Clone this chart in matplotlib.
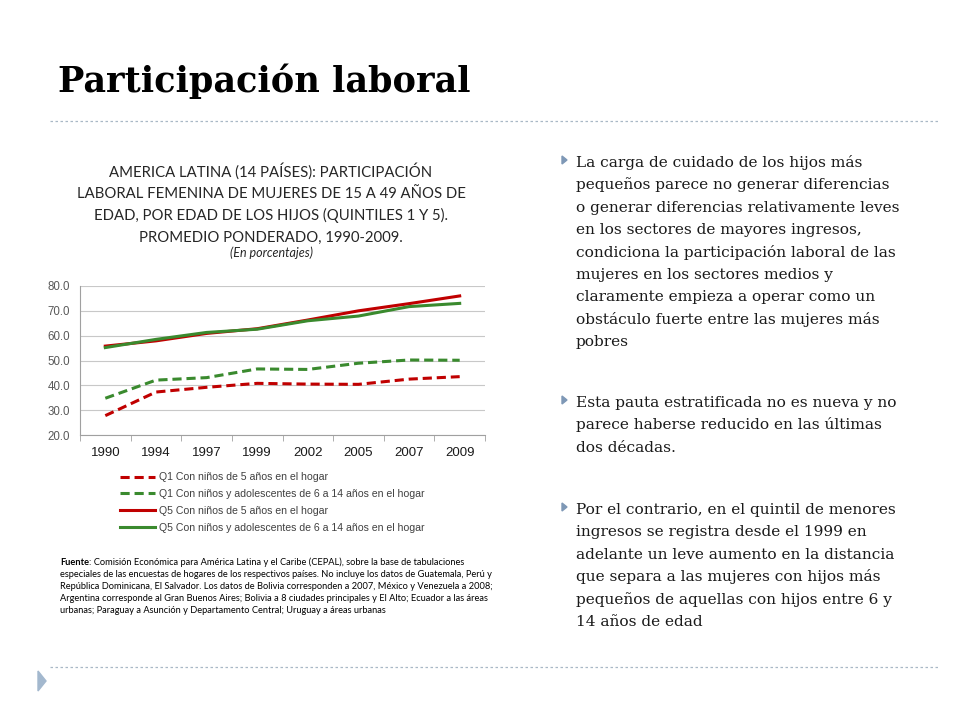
import numpy as np
import matplotlib
matplotlib.use("Agg")
import matplotlib.pyplot as plt
from matplotlib.lines import Line2D
from matplotlib.patches import Polygon

# data
years = ["1990", "1994", "1997", "1999", "2002", "2005", "2007", "2009"]
q1_small = [27.8, 37.3, 39.2, 40.8, 40.5, 40.4, 42.5, 43.5]
q1_older = [34.8, 42.1, 43.1, 46.6, 46.4, 48.9, 50.2, 50.1]
q5_small = [55.8, 57.9, 60.9, 62.8, 66.3, 70.0, 72.9, 76.0]
q5_older = [55.2, 58.5, 61.3, 62.6, 66.0, 67.9, 71.7, 73.0]
yticks = [20, 30, 40, 50, 60, 70, 80]

labels = ["Q1 Con niños de 5 años en el hogar",
          "Q1 Con niños y adolescentes de 6 a 14 años en el hogar",
          "Q5 Con niños de 5 años en el hogar",
          "Q5 Con niños y adolescentes de 6 a 14 años en el hogar"]

title = "Participación laboral"
chart_title = ["AMERICA LATINA (14 PAÍSES): PARTICIPACIÓN",
               "LABORAL FEMENINA DE MUJERES DE 15 A 49 AÑOS DE",
               "EDAD, POR EDAD DE LOS HIJOS (QUINTILES 1 Y 5).",
               "PROMEDIO PONDERADO, 1990-2009."]
source = ["Comisión Económica para América Latina y el Caribe (CEPAL), sobre la base de tabulaciones",
          "especiales de las encuestas de hogares de los respectivos países. No incluye los datos de Guatemala, Perú y",
          "República Dominicana, El Salvador. Los datos de Bolivia corresponden a 2007, México y Venezuela a 2008;",
          "Argentina corresponde al Gran Buenos Aires; Bolivia a 8 ciudades principales y El Alto; Ecuador a las áreas",
          "urbanas; Paraguay a Asunción y Departamento Central; Uruguay a áreas urbanas"]
bullets = [
    ["La carga de cuidado de los hijos más",
     "pequeños parece no generar diferencias",
     "o generar diferencias relativamente leves",
     "en los sectores de mayores ingresos,",
     "condiciona la participación laboral de las",
     "mujeres en los sectores medios y",
     "claramente empieza a operar como un",
     "obstáculo fuerte entre las mujeres más",
     "pobres"],
    ["Esta pauta estratificada no es nueva y no",
     "parece haberse reducido en las últimas",
     "dos décadas."],
    ["Por el contrario, en el quintil de menores",
     "ingresos se registra desde el 1999 en",
     "adelante un leve aumento en la distancia",
     "que separa a las mujeres con hijos más",
     "pequeños de aquellas con hijos entre 6 y",
     "14 años de edad"],
]

W, H = 960, 720
def fx(x):
    return x / W
def fy(y):
    return 1 - y / H

fig = plt.figure(figsize=(9.6, 7.2), dpi=100)

# slide title and separators
fig.text(fx(58), fy(92), title, family="DejaVu Serif", weight="bold",
         fontsize=25.3, va="baseline", color="black")
for yy in (121, 667):
    fig.add_artist(Line2D([fx(50), fx(940)], [fy(yy), fy(yy)], color="#A9B8C6",
                          lw=0.9, ls=(0, (2, 2))))
fig.add_artist(Polygon([[fx(38), fy(671)], [fx(46), fy(681)], [fx(38), fy(691)]],
                       closed=True, color="#A3B8CE", transform=fig.transFigure))

# chart title
for i, line in enumerate(chart_title):
    fig.text(fx(271), fy(177 + i * 21.5), line, family="Lato", fontsize=10.7,
             ha="center", va="baseline", color="#262626")
fig.text(fx(271), fy(257), "(En porcentajes)", family="Lato", style="italic",
         fontsize=9, ha="center", va="baseline", color="#262626")

# chart
ax = fig.add_axes([fx(80), fy(435), fx(485) - fx(80), (435 - 286) / H])
x = np.arange(len(years))
ax.plot(x, q1_small, color="#C00000", lw=2.2, ls=(0, (3, 1.6)), label=labels[0])
ax.plot(x, q1_older, color="#3A8A2E", lw=2.2, ls=(0, (3, 1.6)), label=labels[1])
ax.plot(x, q5_small, color="#C00000", lw=2.2, label=labels[2])
ax.plot(x, q5_older, color="#3A8A2E", lw=2.2, label=labels[3])
ax.set_xlim(-0.5, len(years) - 0.5)
ax.set_ylim(20, 80)
ax.set_yticks(yticks)
ax.set_yticklabels([f"{v:.1f}" for v in yticks])
ax.set_xticks(x)
ax.set_xticklabels(years)
ax.set_xticks(np.arange(-0.5, len(years)), minor=True)
ax.tick_params(axis="x", which="major", length=0, pad=9, labelsize=9.5,
               labelcolor="#1a1a1a")
ax.tick_params(axis="x", which="minor", length=4, color="#A0A0A0")
ax.tick_params(axis="y", length=0, pad=7, labelsize=8.3, labelcolor="#595959")
ax.grid(axis="y", color="#C8C8C8", lw=0.8)
ax.set_axisbelow(True)
for s in ("top", "right"):
    ax.spines[s].set_visible(False)
for s in ("left", "bottom"):
    ax.spines[s].set_color("#A0A0A0")
for t in ax.get_xticklabels() + ax.get_yticklabels():
    t.set_family("Liberation Sans")

leg = ax.legend(loc="upper left", bbox_to_anchor=(fx(116), fy(468)),
                bbox_transform=fig.transFigure, frameon=False,
                prop={"family": "Liberation Sans", "size": 7.6},
                handlelength=3.3, handletextpad=0.35, labelspacing=0.66,
                borderaxespad=0)
for t in leg.get_texts():
    t.set_color("#404040")

# source note
fnt = fig.text(fx(60), fy(565), "Fuente", family="Lato", weight="bold",
               fontsize=6.7, va="baseline", color="black")
fig.canvas.draw()
bb = fnt.get_window_extent()
fig.text(bb.x1 / W, fy(565), ": " + source[0], family="Lato", fontsize=6.7,
         va="baseline", color="black")
for i, line in enumerate(source[1:]):
    fig.text(fx(60), fy(565 + (i + 1) * 12), line, family="Lato", fontsize=6.7,
             va="baseline", color="black")

# bullet text
starts = [167, 407, 514]
for start, lines in zip(starts, bullets):
    fig.add_artist(Polygon([[fx(562), fy(start - 11)], [fx(567), fy(start - 7)],
                            [fx(562), fy(start - 3)]], closed=True,
                           color="#7E98B6", transform=fig.transFigure))
    for i, line in enumerate(lines):
        fig.text(fx(576), fy(start + i * 22.4), line, family="DejaVu Serif",
                 fontsize=11.1, va="baseline", color="#1a1a1a")

fig.savefig("out.png", dpi=100)
